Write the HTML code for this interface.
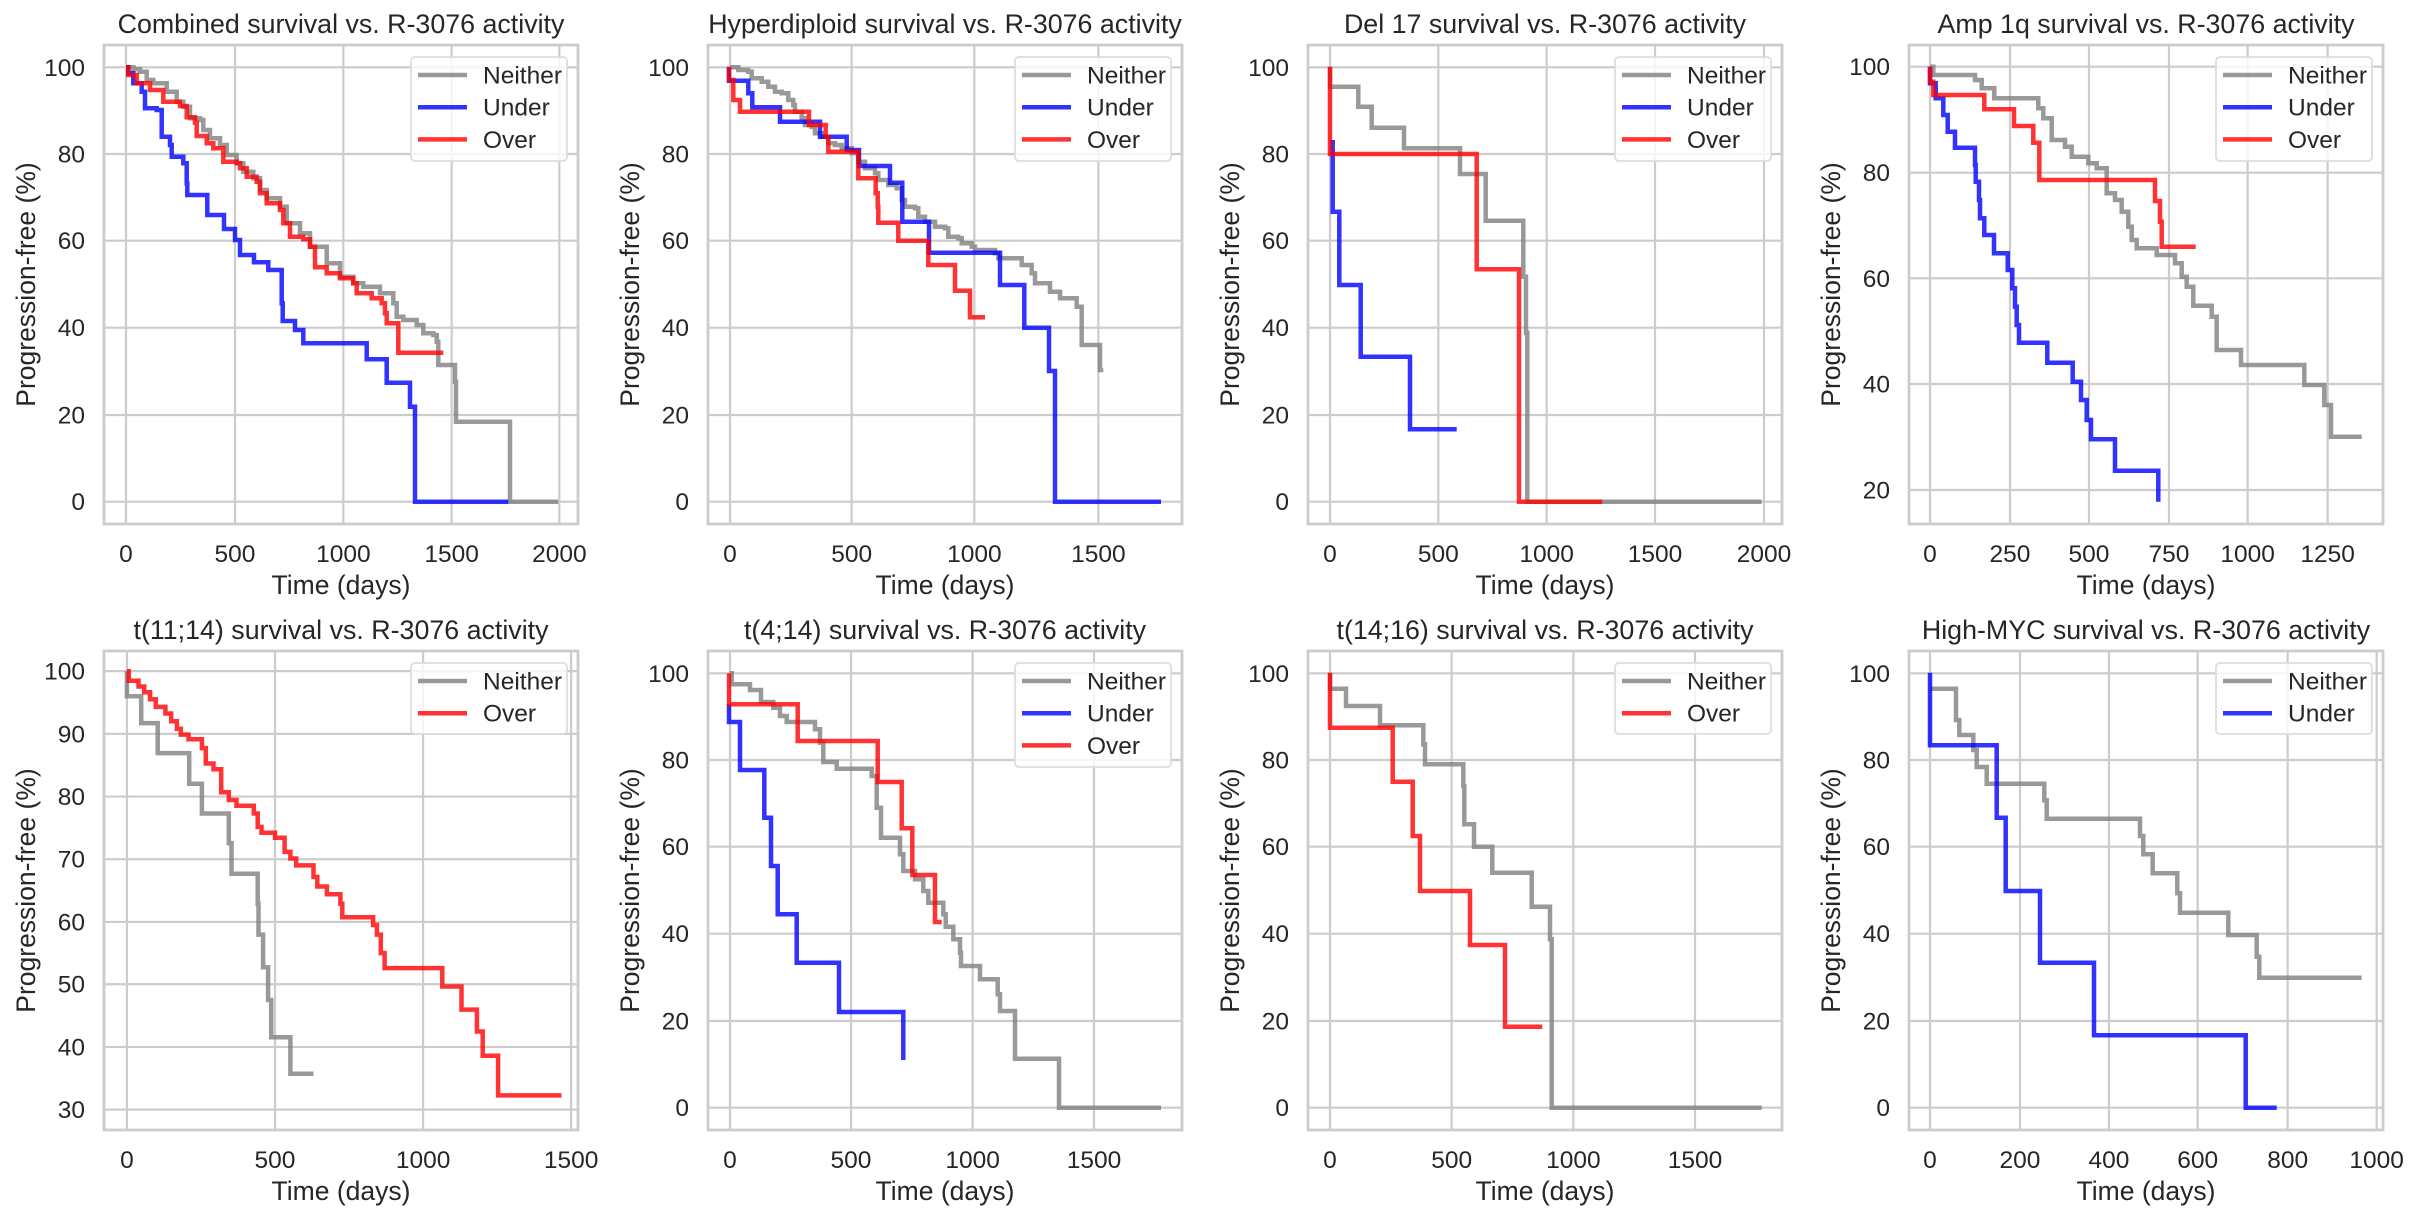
<!DOCTYPE html>
<html><head><meta charset="utf-8"><style>
html,body{margin:0;padding:0;background:#fff;}
svg{display:block;font-family:"Liberation Sans",Arial,sans-serif;}
</style></head><body>
<svg id="s" width="2418" height="1218" xmlns="http://www.w3.org/2000/svg"></svg>
<script>
const NS="http://www.w3.org/2000/svg";
const S=document.getElementById('s');
function el(t,a,txt,p){const e=document.createElementNS(NS,t);for(const k in a)e.setAttribute(k,a[k]);if(txt!=null)e.textContent=txt;(p||S).appendChild(e);return e;}
const C={g:'rgba(128,128,128,0.8)',b:'rgba(0,0,255,0.8)',r:'rgba(255,0,0,0.8)'};
const FS=24.5, TFS=26.8, AFS=26.5, TC='#262626';
function T3(ox,oy){return p=>[ox+p[0]/3,oy+p[1]/3];}
function T26(ox,oy){return p=>[ox+p[0]/2.6,oy+p[1]/2.6];}
const Y6=[112,372,632,893,1155,1415], YL6=['100','80','60','40','20','0'];
const panels=[
{L:104,T:45,title:'Combined survival vs. R-3076 activity',tf:T3(100,30),
 xg:[78,405,730,1055,1378],xl:['0','500','1000','1500','2000'],yg:Y6,yl:YL6,
 leg:['g','b','r'],
 s:{g:[[78,112],[100,118],[120,125],[140,150],[160,160],[200,185],[230,215],[250,230],[270,265],[300,270],[310,300],[330,325],[360,345],[380,375],[410,400],[430,425],[460,445],[480,480],[500,505],[540,530],[560,580],[600,610],[630,650],[660,650],[680,700],[720,740],[760,760],[790,770],[840,790],[880,820],[890,860],[910,870],[950,885],[970,910],[1000,915],[1010,935],[1015,1005],[1055,1005],[1065,1055],[1068,1175],[1230,1175],[1230,1415],[1375,1415]],
 b:[[78,112],[85,130],[100,160],[125,185],[135,235],[170,240],[185,320],[210,345],[215,380],[240,380],[250,400],[260,460],[262,495],[320,495],[322,555],[370,555],[372,597],[395,597],[405,630],[420,675],[460,675],[462,697],[500,697],[505,720],[540,720],[545,820],[548,873],[582,873],[585,900],[608,900],[610,940],[800,940],[800,988],[860,988],[860,1058],[930,1058],[930,1130],[945,1130],[945,1415],[1225,1415]],
 r:[[78,112],[85,135],[110,160],[150,180],[190,215],[240,228],[260,262],[285,278],[290,318],[320,340],[340,355],[370,395],[410,400],[420,415],[440,440],[470,455],[480,490],[500,520],[540,540],[550,580],[570,620],[610,628],[630,650],[645,712],[680,730],[720,745],[760,760],[770,790],[815,805],[845,820],[855,850],[860,880],[895,880],[895,968],[1030,968]]}},
{L:708,T:45,title:'Hyperdiploid survival vs. R-3076 activity',tf:T3(705,30),
 xg:[75,440,808,1180],xl:['0','500','1000','1500'],yg:Y6,yl:YL6,leg:['g','b','r'],
 s:{g:[[75,112],[100,120],[130,125],[140,145],[170,155],[190,170],[210,185],[230,190],[250,210],[265,225],[270,245],[290,265],[300,285],[320,290],[330,310],[350,320],[370,340],[390,345],[410,355],[440,370],[460,395],[480,415],[510,430],[520,450],[550,465],[575,475],[590,510],[600,530],[630,535],[640,560],[660,575],[690,590],[720,595],[730,620],[760,625],[770,640],[800,650],[810,660],[870,670],[880,685],[940,685],[950,705],[970,705],[980,730],[990,760],[1030,760],[1035,785],[1060,785],[1065,805],[1110,805],[1115,830],[1125,830],[1130,945],[1180,945],[1185,1020],[1195,1020]],
 b:[[72,112],[72,152],[130,190],[142,232],[225,275],[345,320],[425,360],[462,408],[555,458],[592,575],[672,668],[885,765],[958,893],[1032,1023],[1050,1415],[1368,1415]],
 r:[[72,110],[72,150],[85,210],[105,245],[312,285],[362,320],[370,365],[460,405],[460,445],[512,490],[518,530],[520,578],[580,632],[670,705],[750,782],[795,862],[840,862]]}},
{L:1308,T:45,title:'Del 17 survival vs. R-3076 activity',tf:T3(1310,30),
 xg:[60,385,710,1035,1362],xl:['0','500','1000','1500','2000'],yg:Y6,yl:YL6,leg:['g','b','r'],
 s:{g:[[60,110],[60,170],[145,230],[185,293],[282,355],[450,432],[527,572],[640,740],[648,908],[652,1415],[1355,1415]],
 b:[[68,330],[68,545],[88,765],[152,980],[300,1198],[440,1198]],
 r:[[60,110],[60,372],[500,718],[627,1415],[877,1415]]}},
{L:1909,T:45,title:'Amp 1q survival vs. R-3076 activity',tf:T3(1915,30),
 xg:[45,285,522,762,998,1238],xl:['0','250','500','750','1000','1250'],yg:[110,428,745,1062,1380],yl:['100','80','60','40','20'],leg:['g','b','r'],
 s:{g:[[45,110],[55,135],[180,150],[200,175],[238,205],[370,235],[385,265],[410,330],[450,350],[470,380],[520,400],[545,415],[575,490],[600,510],[620,545],[640,590],[650,630],[665,655],[725,675],[780,700],[800,740],[815,770],[835,827],[890,860],[905,960],[978,1005],[1168,1065],[1228,1125],[1248,1220],[1340,1220]],
 b:[[45,110],[45,160],[62,205],[85,255],[98,305],[120,353],[180,405],[182,455],[192,510],[195,565],[208,615],[237,670],[278,720],[292,775],[300,830],[305,885],[312,938],[397,998],[473,1055],[498,1110],[515,1170],[528,1228],[600,1322],[730,1415]],
 r:[[45,110],[45,155],[55,195],[208,238],[297,288],[355,338],[373,450],[720,513],[735,575],[740,650],[842,650]]}},
{L:104,T:651,title:'t(11;14) survival vs. R-3076 activity',tf:T26(0,600),
 xg:[330,715,1100,1485],xl:['0','500','1000','1500'],yg:[185,348,511,674,837,999,1162,1325],yl:['100','90','80','70','60','50','40','30'],leg:['g','r'],
 s:{g:[[330,185],[330,250],[367,320],[410,398],[492,478],[525,555],[595,632],[602,712],[670,790],[672,870],[684,955],[697,1040],[705,1137],[755,1232],[815,1232]],
 r:[[330,185],[335,210],[360,225],[375,240],[390,258],[405,278],[430,295],[445,315],[460,335],[470,350],[490,362],[525,385],[535,425],[555,440],[575,500],[595,520],[615,535],[660,555],[670,590],[680,605],[715,618],[740,655],[755,672],[770,690],[815,720],[825,745],[850,765],[885,790],[890,825],[970,845],[980,870],[990,918],[1000,957],[1150,1005],[1200,1065],[1240,1122],[1255,1185],[1295,1288],[1460,1288]]}},
{L:708,T:651,title:'t(4;14) survival vs. R-3076 activity',tf:T3(705,636),
 xg:[75,438,803,1167],xl:['0','500','1000','1500'],yg:Y6,yl:YL6,leg:['g','b','r'],
 s:{g:[[75,112],[80,145],[135,162],[168,198],[205,215],[225,240],[245,258],[330,280],[345,320],[355,378],[395,398],[500,420],[515,515],[528,605],[585,655],[595,705],[630,730],[655,765],[670,800],[715,835],[722,872],[745,910],[765,950],[768,990],[825,1030],[878,1075],[885,1125],[930,1268],[1062,1415],[1368,1415]],
 b:[[72,205],[72,258],[105,402],[178,545],[198,690],[218,835],[275,980],[402,1128],[595,1272]],
 r:[[72,112],[72,205],[278,315],[518,438],[590,577],[622,717],[690,858],[710,858]]}},
{L:1308,T:651,title:'t(14;16) survival vs. R-3076 activity',tf:T3(1310,636),
 xg:[60,425,790,1155],xl:['0','500','1000','1500'],yg:Y6,yl:YL6,leg:['g','r'],
 s:{g:[[60,110],[60,158],[108,210],[210,268],[340,325],[345,385],[460,450],[463,565],[492,632],[547,710],[665,812],[720,910],[725,1415],[1355,1415]],
 r:[[60,110],[60,275],[248,437],[308,600],[330,765],[480,927],[585,1172],[697,1172]]}},
{L:1909,T:651,title:'High-MYC survival vs. R-3076 activity',tf:T3(1915,636),
 xg:[45,315,582,848,1118,1385],xl:['0','200','400','600','800','1000'],yg:Y6,yl:YL6,leg:['g','b'],
 s:{g:[[45,158],[123,252],[133,297],[175,342],[185,393],[215,443],[388,493],[395,548],[675,600],[685,655],[713,712],[787,772],[795,830],[940,897],[1025,962],[1033,1025],[1340,1025]],
 b:[[45,110],[45,328],[245,545],[272,765],[375,980],[537,1198],[992,1415],[1085,1415]]}}
];
const W=474,H=479,names={g:'Neither',b:'Under',r:'Over'};
for(const P of panels){
  const L=P.L,T=P.T,R=L+W,B=T+H,tf=P.tf;
  const clip='c'+L+'_'+T;
  const cp=el('clipPath',{id:clip});el('rect',{x:L,y:T,width:W,height:H},null,cp);
  P.xg.forEach((z,i)=>{const x=tf([z,0])[0];el('line',{x1:x,x2:x,y1:T,y2:B,stroke:'#cccccc','stroke-width':2.2});
    el('text',{x:x,y:B+38,'text-anchor':'middle','font-size':FS,fill:TC},P.xl[i]);});
  P.yg.forEach((z,i)=>{const y=tf([0,z])[1];el('line',{x1:L,x2:R,y1:y,y2:y,stroke:'#cccccc','stroke-width':2.2});
    el('text',{x:L-19,y:y+8.5,'text-anchor':'end','font-size':FS,fill:TC},P.yl[i]);});
  const g=el('g',{'clip-path':'url(#'+clip+')'});
  for(const k of ['g','b','r']){
    const pts=P.s[k];if(!pts)continue;
    let p=tf(pts[0]);let d='M'+p[0].toFixed(1)+' '+p[1].toFixed(1);
    for(let i=1;i<pts.length;i++){const q=tf(pts[i]);d+=' H'+q[0].toFixed(1)+' V'+q[1].toFixed(1);}
    el('path',{d:d,fill:'none',stroke:C[k],'stroke-width':4.5,'stroke-linejoin':'miter','stroke-linecap':'butt'},null,g);
  }
  el('rect',{x:L,y:T,width:W,height:H,fill:'none',stroke:'#cccccc','stroke-width':2.8});
  const n=P.leg.length,lw=156,lh=n==3?104:71,lx=R-11-lw,ly=T+12;
  el('rect',{x:lx,y:ly,width:lw,height:lh,rx:4,fill:'rgba(255,255,255,0.8)',stroke:'#dddddd','stroke-width':1.8});
  P.leg.forEach((k,i)=>{const yy=ly+18+i*32.2;
    el('line',{x1:lx+7,x2:lx+56,y1:yy,y2:yy,stroke:C[k],'stroke-width':4.5});
    el('text',{x:lx+72,y:yy+8.5,'font-size':FS,fill:TC},names[k]);});
  el('text',{x:(L+R)/2,y:T-12,'text-anchor':'middle','font-size':TFS,fill:TC},P.title);
  el('text',{x:(L+R)/2,y:B+70,'text-anchor':'middle','font-size':AFS,fill:TC},'Time (days)');
  const cy=(T+B)/2,cx=L-78;
  el('text',{x:cx,y:cy,'text-anchor':'middle','dominant-baseline':'central','font-size':AFS,fill:TC,transform:'rotate(-90 '+cx+' '+cy+')'},'Progression-free (%)');
}
</script>
</body></html>
